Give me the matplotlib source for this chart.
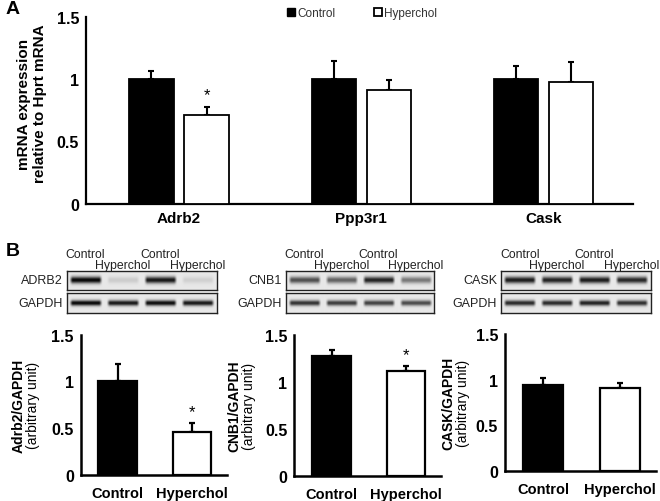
import numpy as np
import matplotlib
matplotlib.use('Agg')
from matplotlib import pyplot as plt
from matplotlib.patches import Patch

plt.rcParams['font.family'] = ['Liberation Sans', 'DejaVu Sans']

# panel A - mRNA
genes = ['Adrb2', 'Ppp3r1', 'Cask']
mrna_ctrl = [1.0, 1.0, 1.0]
mrna_ctrl_err = [0.066, 0.144, 0.104]
mrna_hyp = [0.714, 0.915, 0.978]
mrna_hyp_err = [0.059, 0.077, 0.156]
mrna_sig = [True, False, False]

# panel B - western blot quantification
groups = ['Control', 'Hyperchol']
prot_names = ['Adrb2/GAPDH', 'CNB1/GAPDH', 'CASK/GAPDH']
prot_vals = [[1.0, 0.454], [1.28, 1.116], [0.94, 0.91]]
prot_errs = [[0.186, 0.10], [0.06, 0.05], [0.075, 0.053]]
prot_sig = [True, True, False]

# blot band darkness per lane (Control, Hyperchol, Control, Hyperchol)
blot_rows = ['ADRB2', 'CNB1', 'CASK']
blot_target = [[0.97, 0.12, 0.90, 0.10],
               [0.66, 0.58, 0.85, 0.48],
               [0.88, 0.85, 0.88, 0.83]]
blot_gapdh = [[0.97, 0.90, 0.95, 0.90],
              [0.78, 0.74, 0.72, 0.68],
              [0.82, 0.82, 0.86, 0.80]]
lane_labels = ['Control', 'Hyperchol', 'Control', 'Hyperchol']

W, H = 660, 502
fig = plt.figure(figsize=(W / 100, H / 100), dpi=100)


def px_axes(x0, y0, x1, y1):
    return fig.add_axes([x0 / W, 1 - y1 / H, (x1 - x0) / W, (y1 - y0) / H])


def style(ax, lw):
    for s in ['top', 'right']:
        ax.spines[s].set_visible(False)
    for s in ['left', 'bottom']:
        ax.spines[s].set_linewidth(lw)
    ax.tick_params(length=0)


# ---- panel A ----
axA = px_axes(86, 17.5, 633, 205)
x = np.arange(len(genes))
bw = 0.242
off = 0.151
axA.bar(x - off, mrna_ctrl, bw, color='black', edgecolor='black', linewidth=1.3, zorder=3)
axA.bar(x + off, mrna_hyp, bw, color='white', edgecolor='black', linewidth=1.3, zorder=3)
axA.errorbar(x - off, mrna_ctrl, yerr=[np.zeros(3), mrna_ctrl_err], fmt='none',
             ecolor='black', elinewidth=1.5, capsize=2, capthick=1.5, zorder=2)
axA.errorbar(x + off, mrna_hyp, yerr=[np.zeros(3), mrna_hyp_err], fmt='none',
             ecolor='black', elinewidth=1.5, capsize=2, capthick=1.5, zorder=2)
for i, s in enumerate(mrna_sig):
    if s:
        axA.text(x[i] + off, mrna_hyp[i] + mrna_hyp_err[i] + 0.04, '*',
                 ha='center', va='bottom', fontsize=12)
axA.set_xlim(-0.51, 2.49)
axA.set_ylim(0, 1.5)
axA.set_yticks([0, 0.5, 1, 1.5])
axA.set_yticklabels(['0', '0.5', '1', '1.5'], fontsize=11.5, fontweight='bold')
axA.set_xticks(x)
axA.set_xticklabels(genes, fontsize=11, fontweight='bold')
axA.tick_params(axis='x', pad=5)
axA.tick_params(axis='y', pad=5)
style(axA, 1.6)
fig.text(32 / W, 1 - 104 / H, 'mRNA expression\nrelative to Hprt mRNA', rotation=90,
         ha='center', va='center', fontsize=11, fontweight='bold', linespacing=1.2)
handles = [Patch(facecolor='black', edgecolor='black', label='Control'),
           Patch(facecolor='white', edgecolor='black', linewidth=1.3, label='Hyperchol')]
fig.legend(handles=handles, loc='center left', bbox_to_anchor=(281 / W, 1 - 14 / H),
           ncol=2, frameon=False, fontsize=8.5, handlelength=0.7, handleheight=0.7,
           handletextpad=0.15, columnspacing=3.3, borderpad=0, labelcolor='#333333')

fig.text(6 / W, 1 - 9 / H, 'A', fontsize=14, fontweight='bold', va='center')
fig.text(6 / W, 1 - 252 / H, 'B', fontsize=14, fontweight='bold', va='center')

# ---- panel B blots ----
blot_x = [(66.7, 216.7), (285.7, 434), (501, 650.7)]
row_y = [(271.7, 291), (294.3, 314)]


def blot_image(dark, thick):
    ny, nx = 40, 300
    yy = np.linspace(-1, 1, ny)[:, None]
    xx = np.linspace(0, 4, nx)[None, :]
    img = np.full((ny, nx), 0.91)
    for i, d in enumerate(dark):
        lane = np.clip((0.44 - np.abs(xx - (i + 0.5))) / 0.08, 0, 1)
        band = np.exp(-(yy / thick) ** 2)
        img = img - d * 0.92 * lane * band
    return np.clip(img, 0, 1)


for k in range(3):
    x0, x1 = blot_x[k]
    lw_ = (x1 - x0) / 4
    for r, (y0, y1) in enumerate(row_y):
        ax = px_axes(x0, y0, x1, y1)
        dark = blot_target[k] if r == 0 else blot_gapdh[k]
        thick = 0.34 if r == 0 else 0.28
        ax.imshow(blot_image(dark, thick), cmap='gray', vmin=0, vmax=1,
                  aspect='auto', interpolation='bilinear')
        ax.set_xticks([])
        ax.set_yticks([])
        for s in ax.spines.values():
            s.set_linewidth(1.0)
            s.set_color('#222222')
        name = blot_rows[k] if r == 0 else 'GAPDH'
        fig.text((x0 - 4) / W, 1 - (y0 + y1) / 2 / H, name, ha='right', va='center',
                 fontsize=9, color='#222222')
    for i, lab in enumerate(lane_labels):
        yb = 257.5 if i % 2 == 0 else 269
        fig.text((x0 + lw_ * (i + 0.5)) / W, 1 - yb / H, lab, ha='center',
                 va='baseline', fontsize=8.8, color='#222222')

# ---- panel B bar charts ----
bar_axes = [(80.7, 335.7, 226.7, 475.7), (294.3, 336, 441, 476.7), (505, 335, 656, 471.7)]
label_x = [(19, 33), (234, 249), (448, 463)]
for k in range(3):
    ax = px_axes(*bar_axes[k])
    xb = np.arange(2)
    ax.bar(xb, prot_vals[k], 0.52, color=['black', 'white'], edgecolor='black',
           linewidth=1.6, zorder=3)
    ax.errorbar(xb, prot_vals[k], yerr=[np.zeros(2), prot_errs[k]], fmt='none',
                ecolor='black', elinewidth=1.6, capsize=2, capthick=1.6, zorder=2)
    if prot_sig[k]:
        ax.text(1, prot_vals[k][1] + prot_errs[k][1] + 0.04, '*', ha='center',
                va='bottom', fontsize=12)
    ax.set_xlim(-0.5, 1.47)
    ax.set_ylim(0, 1.5)
    ax.set_yticks([0, 0.5, 1, 1.5])
    ax.set_yticklabels(['0', '0.5', '1', '1.5'], fontsize=11.5, fontweight='bold')
    ax.set_xticks(xb)
    ax.set_xticklabels(groups, fontsize=10.5, fontweight='bold')
    ax.tick_params(axis='x', pad=8)
    ax.tick_params(axis='y', pad=5)
    style(ax, 1.8)
    yc = (bar_axes[k][1] + bar_axes[k][3]) / 2
    fig.text(label_x[k][0] / W, 1 - yc / H, prot_names[k], rotation=90, ha='center',
             va='center', fontsize=10, fontweight='bold')
    fig.text(label_x[k][1] / W, 1 - yc / H, '(arbitrary unit)', rotation=90,
             ha='center', va='center', fontsize=10)

fig.savefig('out.png', dpi=100)
